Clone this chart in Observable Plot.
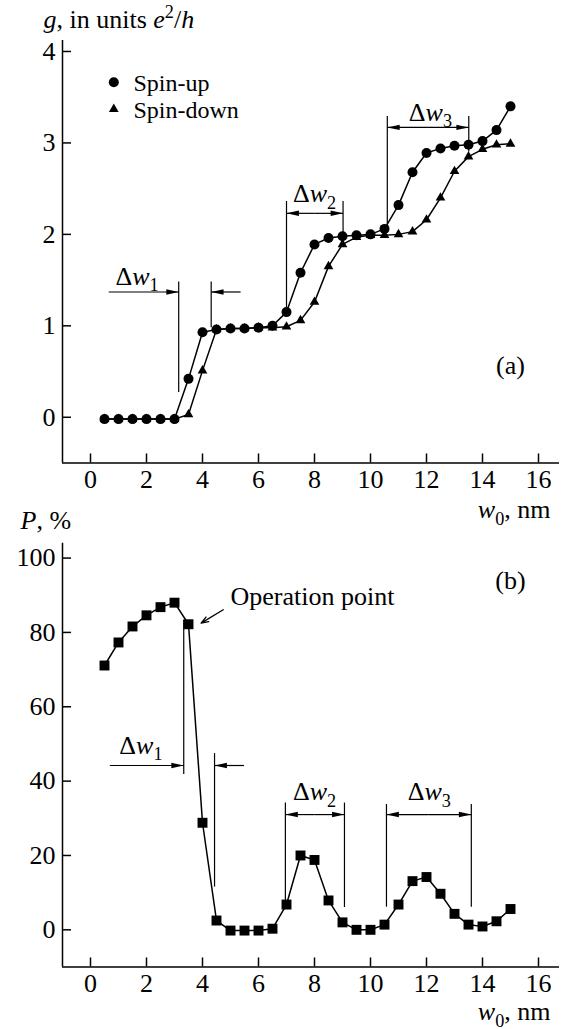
<!DOCTYPE html>
<html><head><meta charset="utf-8">
<script src="https://cdn.jsdelivr.net/npm/d3@7"></script>
<script src="https://cdn.jsdelivr.net/npm/@observablehq/plot@0.6"></script>
<style>
body{margin:0;background:#fff;}
#wrap{position:relative;width:568px;height:1029px;overflow:hidden;}
#wrap svg{position:absolute;left:0;background:transparent !important;}
#wrap svg, #wrap svg text, #wrap svg tspan{font-family:"Liberation Serif","Times New Roman","DejaVu Serif",serif !important;}
</style></head><body><div id="wrap"></div>
<script>
// ---------- data ----------
const w0 = [0.5,1,1.5,2,2.5,3,3.5,4,4.5,5,5.5,6,6.5,7,7.5,8,8.5,9,9.5,10,10.5,11,11.5,12,12.5,13,13.5,14,14.5,15];
const gUp = [-0.02,-0.02,-0.02,-0.02,-0.02,-0.02,0.42,0.93,0.96,0.97,0.97,0.98,1.0,1.15,1.58,1.89,1.96,1.98,1.99,2.0,2.06,2.32,2.68,2.89,2.94,2.97,2.98,3.02,3.14,3.40];
const gDown = [-0.02,-0.02,-0.02,-0.02,-0.02,-0.02,0.03,0.51,0.96,0.97,0.97,0.98,0.98,0.99,1.06,1.26,1.65,1.89,1.97,1.99,1.99,2.0,2.03,2.16,2.40,2.69,2.85,2.93,2.98,2.99];
const P = [71.1,77.3,81.6,84.6,86.8,88.0,82.2,28.8,2.5,-0.2,-0.2,-0.2,0.3,6.8,20.0,18.8,7.9,2.0,0,0,1.4,6.8,13.1,14.2,9.7,4.3,1.4,0.9,2.3,5.6];

const xTicks = [0,2,4,6,8,10,12,14,16];
const gTicks = [0,1,2,3,4];
const pTicks = [0,20,40,60,80,100];
const xDomain = [-1, 16.75];
const gDomain = [-0.5, 4.12];
const pDomain = [-10, 104];

const legendLabels = ["Spin-up", "Spin-down"];
const legendSymbols = ["circle", "triangle"];

// annotation geometry (data units)
const topRules = [{x:3.15,y1:0.27,y2:1.48},{x:4.31,y1:0.98,y2:1.48},{x:7.0,y1:1.2,y2:2.36},{x:9.02,y1:2.0,y2:2.36},{x:10.6,y1:2.1,y2:3.29},{x:13.51,y1:2.9,y2:3.29}];
const topArrows = [{x1:0.65,x2:3.15,y:1.37},{x1:5.36,x2:4.31,y:1.37},{x1:8.01,x2:7.0,y:2.23},{x1:8.01,x2:9.02,y:2.23},{x1:12.05,x2:10.6,y:3.17},{x1:12.05,x2:13.51,y:3.17}];
const topLabels = [{x:1.66,y:1.45,t:"Δ*w*_1"},{x:8.0,y:2.35,t:"Δ*w*_2"},{x:12.14,y:3.24,t:"Δ*w*_3"},{x:15.0,y:0.47,t:"(a)"}];

const botRules = [{x:3.33,y1:41.8,y2:83.3},{x:4.43,y1:11.5,y2:47.4},{x:6.96,y1:6.8,y2:34.1},{x:9.07,y1:6.0,y2:34.1},{x:10.57,y1:6.1,y2:33.7},{x:13.6,y1:6.1,y2:33.7}];
const botArrows = [{x1:0.69,x2:3.33,y:44.2},{x1:5.48,x2:4.43,y:44.2},{x1:8.0,x2:6.96,y:31},{x1:8.0,x2:9.07,y:31},{x1:12.08,x2:10.57,y:31},{x1:12.08,x2:13.6,y:31}];
const botLabels = [{x:1.8,y:47.4,t:"Δ*w*_1"},{x:8.0,y:34.8,t:"Δ*w*_2"},{x:12.1,y:34.8,t:"Δ*w*_3"},{x:15.0,y:91.6,t:"(b)"}];
const opLabel = [{x:5.0,y:87.3,t:"Operation point"}];
const opArrow = [{x1:4.74,y1:86.1,x2:3.95,y2:82.5}];

// ---------- helpers ----------
const FS = 26;
const FONT = "'Liberation Serif','Times New Roman','DejaVu Serif',serif";
const arrowHead = {draw(ctx, size){ const s = Math.sqrt(size); ctx.moveTo(0,0); ctx.lineTo(s*0.22, s); ctx.lineTo(-s*0.22, s); ctx.closePath(); }};

function arrowMarks(arr){
  return [
    Plot.link(arr, {x1:"x1", x2:"x2", y1:"y", y2:"y", stroke:"black", strokeWidth:1.2}),
    Plot.dot(arr, {x:"x2", y:"y", symbol: arrowHead, r:7, fill:"black", rotate: d => d.x2 > d.x1 ? 90 : -90})
  ];
}
function axes(yTicks){
  return [
    Plot.ruleX([xDomain[0]], {stroke:"black", strokeWidth:1.5}),
    Plot.axisX(xTicks, {tickSize:-9, fill:"none", label:null, stroke:"black", strokeWidth:1.5}),
    Plot.axisX(xTicks, {tickSize:0, tickPadding:7, label:null, fill:"black", fontSize:FS, fontFamily:FONT, tickFormat:"d"}),
    Plot.axisY(yTicks, {tickSize:-9, fill:"none", label:null, stroke:"black", strokeWidth:1.5}),
    Plot.axisY(yTicks, {tickSize:0, tickPadding:7, label:null, fill:"black", fontSize:FS, fontFamily:FONT, tickFormat:"d"})
  ];
}
function txt(data, opts){ return Plot.text(data, {fontSize:FS, fontFamily:FONT, fill:"black", ...opts}); }
function rich(svg){
  d3.select(svg).selectAll("text").each(function(){
    this.setAttribute("font-family", FONT);
    if (this.querySelector("tspan")) return;
    const t = this.textContent;
    if (!/[*^_]/.test(t)) return;
    const el = d3.select(this);
    el.text(null);
    let italic = false, buf = "", pend = 0;
    const add = (s, opts={}) => {
      const ts = el.append("tspan").text(s);
      if (opts.italic) ts.attr("font-style","italic");
      if (opts.size) ts.attr("font-size", opts.size);
      const dy = (opts.dy||0) + pend; pend = 0;
      if (dy) ts.attr("dy", dy);
      return ts;
    };
    const flush = () => { if (buf) { add(buf, {italic}); buf = ""; } };
    for (let i = 0; i < t.length; i++) {
      const c = t[i];
      if (c === "*") { flush(); italic = !italic; }
      else if (c === "^" || c === "_") {
        flush();
        const shift = c === "^" ? -0.38*FS : 0.25*FS;
        add(t[++i], {size: FS*0.7, dy: shift});
        pend = -shift;
      } else buf += c;
    }
    flush();
  });
}

// ---------- top panel ----------
const topPlot = Plot.plot({
  width:568, height:530,
  marginLeft:62, marginRight:9, marginTop:40, marginBottom:67.5,
  x:{domain:xDomain}, y:{domain:gDomain},
  style:{"font-family":FONT, "font-size":FS+"px", background:"transparent", color:"black"},
  marks:[
    Plot.ruleY([gDomain[0]], {stroke:"black", strokeWidth:1.5}),
    ...axes(gTicks),
    txt(["*g*, in units *e*^2/*h*"], {text:d=>d, frameAnchor:"top-left", textAnchor:"start", lineAnchor:"bottom", dx:-19, dy:-13}),
    txt(["*w*_0, nm"], {text:d=>d, frameAnchor:"bottom-right", textAnchor:"end", lineAnchor:"bottom", dx:-9, dy:55}),
    Plot.ruleX(topRules, {x:"x", y1:"y1", y2:"y2", stroke:"black", strokeWidth:1.2}),
    ...arrowMarks(topArrows),
    txt(topLabels, {x:"x", y:"y", text:"t", textAnchor:"middle", lineAnchor:"bottom"}),
    Plot.line(w0, {x:w0, y:gDown, stroke:"black", strokeWidth:1.5}),
    Plot.line(w0, {x:w0, y:gUp, stroke:"black", strokeWidth:1.5}),
    Plot.dot(w0, {x:w0, y:gUp, r:5, fill:"black", symbol:"circle"}),
    Plot.dot(w0, {x:w0, y:gDown, r:3.6, fill:"black", symbol:"triangle"}),
    ...legendLabels.flatMap((lab, i) => [
      Plot.dot([lab], {frameAnchor:"top-left", dx:51.3, dy:41.7 + i*27, r: i ? 3.6 : 5, symbol: legendSymbols[i], fill:"black"}),
      txt([lab], {text:d=>d, frameAnchor:"top-left", textAnchor:"start", lineAnchor:"bottom", dx:71, dy:50.5 + i*27, fontSize:24})
    ])
  ]
});
topPlot.style.top = "0px";

// ---------- bottom panel ----------
const botPlot = Plot.plot({
  width:568, height:529,
  marginLeft:62, marginRight:9, marginTop:42.7, marginBottom:62.5,
  x:{domain:xDomain}, y:{domain:pDomain},
  style:{"font-family":FONT, "font-size":FS+"px", background:"transparent", color:"black"},
  marks:[
    Plot.ruleY([pDomain[0]], {stroke:"black", strokeWidth:1.5}),
    ...axes(pTicks),
    txt(["*P*, %"], {text:d=>d, frameAnchor:"top-left", textAnchor:"start", lineAnchor:"bottom", dx:-42, dy:-14.7}),
    txt(["*w*_0, nm"], {text:d=>d, frameAnchor:"bottom-right", textAnchor:"end", lineAnchor:"bottom", dx:-9, dy:53}),
    Plot.ruleX(botRules, {x:"x", y1:"y1", y2:"y2", stroke:"black", strokeWidth:1.2}),
    ...arrowMarks(botArrows),
    txt(botLabels, {x:"x", y:"y", text:"t", textAnchor:"middle", lineAnchor:"bottom"}),
    txt(opLabel, {x:"x", y:"y", text:"t", textAnchor:"start", lineAnchor:"bottom"}),
    Plot.arrow(opArrow, {x1:"x1", y1:"y1", x2:"x2", y2:"y2", stroke:"black", strokeWidth:1.3, headLength:9, headAngle:40}),
    Plot.line(w0, {x:w0, y:P, stroke:"black", strokeWidth:1.5}),
    Plot.dot(w0, {x:w0, y:P, r:5.6, fill:"black", symbol:"square"})
  ]
});
botPlot.style.top = "500px";

const wrap = document.getElementById("wrap");
wrap.appendChild(topPlot);
wrap.appendChild(botPlot);
rich(topPlot);
rich(botPlot);
</script>
</body></html>
